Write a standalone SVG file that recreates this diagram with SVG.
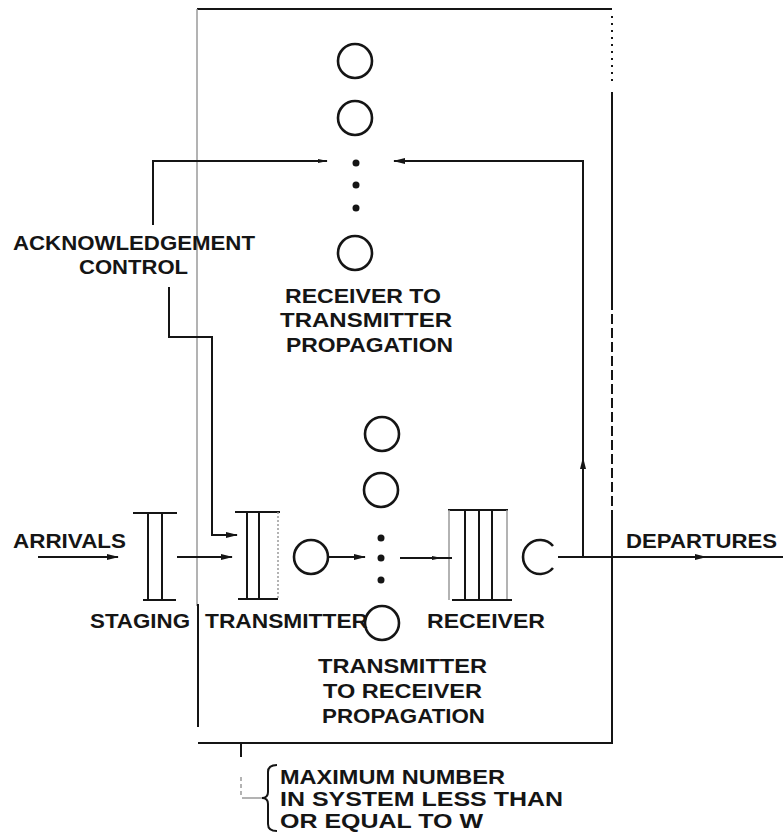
<svg xmlns="http://www.w3.org/2000/svg" width="783" height="833" viewBox="0 0 783 833">
<defs>
<style>
.ln{fill:none;stroke:#151515;stroke-width:2}
.lt{fill:none;stroke:#9a9a9a;stroke-width:1.5}
.ck{fill:none;stroke:#151515;stroke-width:2.6}
.dot{fill:#151515}
.tx{font-family:"Liberation Sans",Arial,sans-serif;font-weight:bold;font-size:21px;fill:#151515}
</style>
<marker id="ah" viewBox="0 0 12 8" refX="11" refY="4" markerWidth="13" markerHeight="8" markerUnits="userSpaceOnUse" orient="auto"><path d="M0,1 L12,4 L0,7 z" fill="#151515"/></marker>
<marker id="ahs" viewBox="0 0 10 6" refX="9" refY="3" markerWidth="10" markerHeight="6" markerUnits="userSpaceOnUse" orient="auto"><path d="M0,1 L10,3 L0,5 z" fill="#151515"/></marker>
</defs>
<rect width="783" height="833" fill="#ffffff"/>

<g id="system-boundary">
<line class="ln" x1="197" y1="9" x2="612" y2="9"/>
<line class="lt" x1="197" y1="9" x2="197" y2="606"/>
<line class="ln" x1="198" y1="604" x2="198" y2="727"/>
<line class="ln" x1="198" y1="743" x2="612" y2="743"/>
<line class="ln" x1="612" y1="16" x2="612" y2="82" stroke-dasharray="2 5"/>
<line class="ln" x1="612" y1="92" x2="612" y2="300"/>
<line class="ln" x1="612" y1="300" x2="612" y2="520" stroke-dasharray="10 4"/>
<line class="ln" x1="612" y1="520" x2="612" y2="744"/>
<line class="ln" x1="241" y1="743" x2="241" y2="757"/>
<line class="lt" x1="241" y1="777" x2="241" y2="797" stroke-dasharray="4 3"/>
<line class="lt" x1="242" y1="798" x2="262" y2="798"/>
<path class="ln" d="M277,765 Q268,765 268,772 L268,792 Q268,798 262,798 Q268,798 268,804 L268,824 Q268,831 277,831"/>
<text class="tx" x="280" y="784" textLength="225" lengthAdjust="spacingAndGlyphs">MAXIMUM NUMBER</text>
<text class="tx" x="280" y="806" textLength="283" lengthAdjust="spacingAndGlyphs">IN SYSTEM LESS THAN</text>
<text class="tx" x="280" y="828" textLength="203" lengthAdjust="spacingAndGlyphs">OR EQUAL TO W</text>
</g>

<g id="rx-tx-propagation">
<circle class="ck" cx="355" cy="61" r="17"/>
<circle class="ck" cx="355" cy="118" r="17"/>
<circle class="dot" cx="356" cy="163" r="3.5"/>
<circle class="dot" cx="356" cy="185" r="3.5"/>
<circle class="dot" cx="356" cy="208" r="3.5"/>
<circle class="ck" cx="355" cy="253" r="17" stroke-width="2"/>
<text class="tx" x="285" y="303" textLength="156" lengthAdjust="spacingAndGlyphs">RECEIVER TO</text>
<text class="tx" x="280" y="327" textLength="172" lengthAdjust="spacingAndGlyphs">TRANSMITTER</text>
<text class="tx" x="286" y="352" textLength="167" lengthAdjust="spacingAndGlyphs">PROPAGATION</text>
</g>

<g id="acknowledgement-control">
<text class="tx" x="13" y="250" textLength="242" lengthAdjust="spacingAndGlyphs">ACKNOWLEDGEMENT</text>
<text class="tx" x="79" y="274" textLength="109" lengthAdjust="spacingAndGlyphs">CONTROL</text>
</g>

<g id="arrivals">
<text class="tx" x="13" y="548" textLength="113" lengthAdjust="spacingAndGlyphs">ARRIVALS</text>
</g>

<g id="staging">
<line class="ln" x1="133" y1="513" x2="177" y2="513"/>
<line class="ln" x1="148" y1="513" x2="148" y2="600"/>
<line class="ln" x1="162" y1="513" x2="162" y2="600"/>
<line class="ln" x1="143" y1="600" x2="176" y2="600"/>
<text class="tx" x="90" y="628" textLength="100" lengthAdjust="spacingAndGlyphs">STAGING</text>
</g>

<g id="transmitter">
<line class="ln" x1="235" y1="512" x2="280" y2="512"/>
<line class="ln" x1="247" y1="512" x2="247" y2="599"/>
<line class="ln" x1="259" y1="512" x2="259" y2="599"/>
<line class="lt" x1="278" y1="512" x2="278" y2="599" stroke-dasharray="2 2"/>
<line class="ln" x1="238" y1="599" x2="278" y2="599"/>
<text class="tx" x="205" y="628" textLength="163" lengthAdjust="spacingAndGlyphs">TRANSMITTER</text>
</g>

<g id="transmitter-server">
<circle class="ck" cx="311" cy="557" r="17" stroke-width="2.2"/>
</g>

<g id="tx-rx-propagation">
<circle class="ck" cx="382" cy="434" r="17"/>
<circle class="ck" cx="381" cy="490" r="17"/>
<circle class="dot" cx="381" cy="538" r="3.5"/>
<circle class="dot" cx="381" cy="558" r="3.5"/>
<circle class="dot" cx="381" cy="580" r="3.5"/>
<circle class="ck" cx="382" cy="623" r="17" stroke-width="2"/>
<text class="tx" x="318" y="673" textLength="169" lengthAdjust="spacingAndGlyphs">TRANSMITTER</text>
<text class="tx" x="323" y="698" textLength="159" lengthAdjust="spacingAndGlyphs">TO RECEIVER</text>
<text class="tx" x="322" y="723" textLength="163" lengthAdjust="spacingAndGlyphs">PROPAGATION</text>
</g>

<g id="receiver">
<line class="ln" x1="448" y1="510" x2="508" y2="510"/>
<line class="lt" x1="449" y1="510" x2="449" y2="600"/>
<line class="ln" x1="465" y1="510" x2="465" y2="600"/>
<line class="ln" x1="479" y1="510" x2="479" y2="600"/>
<line class="ln" x1="492" y1="510" x2="492" y2="600"/>
<line class="lt" x1="507" y1="510" x2="507" y2="600"/>
<line class="ln" x1="452" y1="600" x2="512" y2="600"/>
<text class="tx" x="427" y="628" textLength="118" lengthAdjust="spacingAndGlyphs">RECEIVER</text>
</g>

<g id="receiver-server">
<path class="ck" d="M553,546 A17,17 0 1 0 553,568"/>
</g>

<g id="departures">
<text class="tx" x="626" y="548" textLength="151" lengthAdjust="spacingAndGlyphs">DEPARTURES</text>
</g>

<g id="connectors">
<line class="ln" x1="38" y1="557" x2="118" y2="557" marker-end="url(#ah)"/>
<line class="ln" x1="177" y1="557" x2="232" y2="557" marker-end="url(#ah)"/>
<line class="ln" x1="328" y1="557" x2="365" y2="557" marker-end="url(#ah)"/>
<line class="ln" x1="400" y1="558" x2="441" y2="558" marker-end="url(#ahs)"/>
<line class="ln" x1="439" y1="558" x2="452" y2="558"/>
<line class="ln" x1="558" y1="557" x2="706" y2="557" marker-end="url(#ah)"/>
<line class="ln" x1="704" y1="557" x2="783" y2="557"/>
<line class="ln" x1="583" y1="557" x2="583" y2="458" marker-end="url(#ah)"/>
<polyline class="ln" points="583,460 583,161 394,161" marker-end="url(#ah)"/>
<polyline class="ln" points="153,225 153,161 327,161" marker-end="url(#ahs)"/>
<polyline class="ln" points="169,287 169,337 212,337 212,535 237,535" marker-end="url(#ah)"/>
</g>
</svg>
